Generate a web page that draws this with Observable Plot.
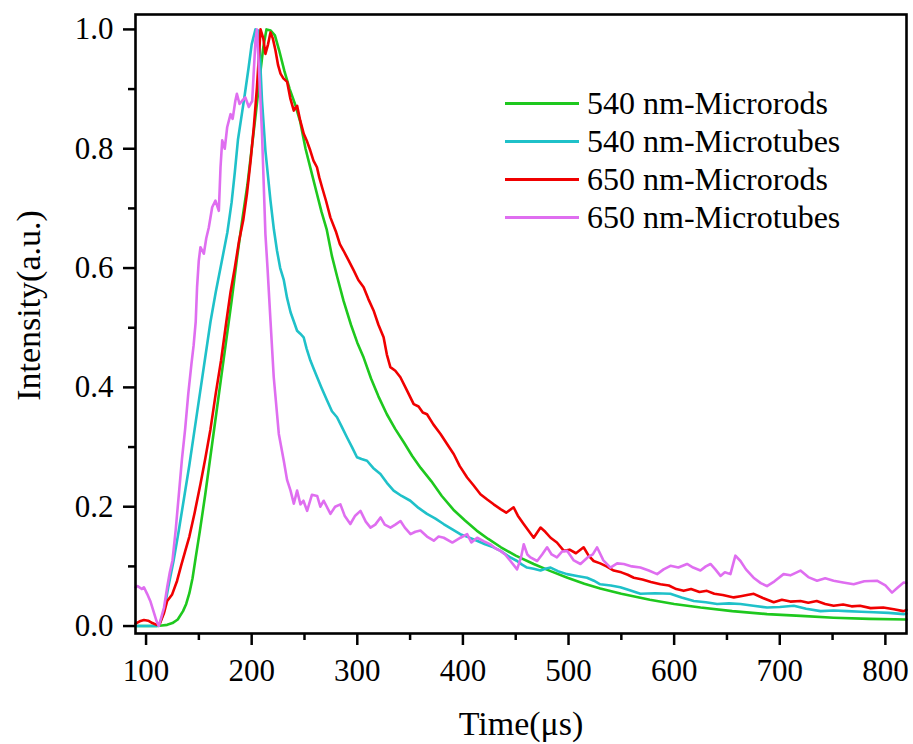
<!DOCTYPE html>
<html><head><meta charset="utf-8">
<script src="https://cdn.jsdelivr.net/npm/d3@7"></script>
<script src="https://cdn.jsdelivr.net/npm/@observablehq/plot@0.6"></script>
<style>
html,body{margin:0;padding:0;background:#fff;}
#wrap{position:relative;width:913px;height:744px;font-family:"Liberation Serif","Times New Roman",serif;}
#legend{position:absolute;left:505px;top:84px;}
.row{height:38px;display:flex;align-items:center;font-size:32px;color:#000;white-space:nowrap;}
.sw{width:74px;height:3px;margin-right:8px;}
</style></head><body><div id="wrap"><div id="legend"></div></div>
<script>
const seriesNames = ["540 nm-Microrods", "540 nm-Microtubes", "650 nm-Microrods", "650 nm-Microtubes"];
const seriesColors = ["#1ec81e", "#1fc1c9", "#f00000", "#df6ef0"];
const xTicks = [100, 200, 300, 400, 500, 600, 700, 800];
const xMinor = [150, 250, 350, 450, 550, 650, 750];
const yTicks = [0, 0.2, 0.4, 0.6, 0.8, 1.0];
const yMinor = [0.1, 0.3, 0.5, 0.7, 0.9];

// [time (µs), intensity]
const rods540 = [[90,0],[100,0],[110,0],[115,0.001],[120,0.002],[125,0.005],[130,0.011],[135,0.025],[138,0.037],[141,0.055],[144,0.08],[147,0.115],[151,0.16],[156,0.22],[161,0.285],[166,0.35],[171,0.415],[176,0.48],[181,0.545],[186,0.615],[191,0.68],[196,0.74],[200,0.80],[204,0.86],[208,0.925],[211,0.97],[214,1.0],[218,0.998],[222,0.99],[226,0.965],[231,0.93],[236,0.90],[241,0.875],[246,0.845],[251,0.80],[256,0.765],[261,0.73],[266,0.695],[271,0.665],[276,0.62],[281,0.585],[287,0.545],[294,0.505],[300,0.475],[306,0.45],[313,0.415],[320,0.385],[328,0.355],[336,0.33],[344,0.308],[352,0.285],[360,0.265],[370,0.243],[380,0.218],[391,0.195],[402,0.177],[413,0.160],[424,0.146],[436,0.132],[450,0.118],[467,0.104],[483,0.092],[499,0.081],[515,0.071],[530,0.063],[550,0.054],[577,0.044],[600,0.037],[625,0.031],[655,0.025],[688,0.020],[720,0.017],[751,0.014],[785,0.012],[820,0.011]];

const tubes540 = [[90,0],[100,0],[110,0],[113,0.004],[117,0.025],[121,0.065],[126,0.109],[131,0.16],[136,0.215],[141,0.27],[146,0.33],[151,0.39],[156,0.45],[161,0.51],[166,0.56],[171,0.605],[177,0.66],[181,0.71],[184,0.76],[187,0.815],[190,0.85],[193,0.885],[197,0.935],[200,0.975],[203.6,1.0],[206.7,0.998],[209.8,0.88],[213,0.797],[217.8,0.713],[221,0.665],[224,0.629],[227,0.60],[230.4,0.58],[233.5,0.55],[236.8,0.526],[240,0.51],[243,0.495],[246,0.49],[249.2,0.484],[252,0.465],[255.6,0.445],[259,0.43],[262,0.417],[266,0.40],[271.4,0.378],[276,0.36],[280.8,0.35],[285,0.335],[290.3,0.316],[295,0.30],[299.7,0.283],[304,0.28],[309.2,0.277],[315,0.265],[321.9,0.255],[328,0.24],[334.4,0.227],[342,0.218],[350.2,0.21],[358,0.198],[366,0.188],[374,0.18],[381.7,0.171],[390,0.162],[397.5,0.154],[405,0.149],[413.3,0.143],[421,0.137],[429,0.132],[435.6,0.126],[444,0.116],[451.3,0.109],[456,0.103],[460.7,0.098],[467,0.096],[473.5,0.093],[478,0.096],[483,0.098],[490,0.092],[498.6,0.087],[508,0.084],[517.5,0.081],[524,0.076],[530,0.070],[540,0.068],[549,0.065],[558,0.06],[568,0.054],[582,0.055],[596.4,0.054],[607,0.048],[618.6,0.042],[630,0.040],[640.7,0.037],[652,0.038],[662.8,0.037],[675,0.034],[688,0.031],[700,0.032],[713.3,0.034],[725,0.029],[738.6,0.025],[751,0.026],[763.8,0.025],[777,0.024],[789,0.023],[803,0.022],[817.4,0.020],[820,0.021]];

const rods650 = [[90,0.004],[94,0.008],[98,0.010],[102,0.009],[106,0.005],[110,0.002],[113,0.004],[117,0.022],[120,0.042],[124.7,0.053],[129.4,0.076],[133,0.100],[137,0.125],[141,0.150],[146,0.190],[151.5,0.238],[156,0.280],[161,0.330],[166,0.390],[171,0.445],[176,0.510],[180,0.560],[184,0.600],[188,0.645],[192,0.680],[195.5,0.724],[199,0.780],[202,0.836],[205,0.903],[208.4,1.000],[211,0.985],[213,0.959],[215.5,0.975],[217.8,0.995],[220,0.985],[222.5,0.965],[225,0.940],[227.3,0.926],[230,0.918],[233.6,0.912],[236.5,0.885],[239.9,0.864],[243,0.872],[246,0.847],[249.3,0.825],[252.5,0.812],[255.5,0.797],[258.5,0.780],[261.8,0.769],[264,0.752],[266.7,0.735],[270.5,0.712],[274.5,0.685],[280,0.660],[283.5,0.640],[287,0.629],[292,0.612],[296.6,0.596],[301,0.580],[306,0.568],[310.5,0.548],[315.4,0.529],[320,0.505],[324.9,0.484],[328,0.455],[331.3,0.434],[336,0.428],[340.8,0.417],[347,0.395],[353.4,0.372],[358,0.368],[362,0.358],[366,0.355],[372,0.338],[378.8,0.322],[385,0.305],[391.4,0.288],[397,0.268],[404,0.249],[410,0.236],[416.6,0.221],[423,0.212],[429.1,0.204],[435.6,0.196],[441,0.190],[448,0.199],[452,0.185],[457.5,0.171],[462,0.160],[467,0.148],[473.5,0.165],[478,0.158],[483,0.148],[489,0.140],[495.6,0.126],[501,0.128],[507,0.122],[514.3,0.132],[519,0.118],[523.8,0.109],[530,0.105],[536,0.100],[542.8,0.093],[550,0.090],[556,0.086],[561.8,0.081],[570,0.078],[578,0.074],[587,0.070],[595,0.068],[602,0.062],[609,0.059],[616,0.062],[624,0.057],[631,0.059],[638,0.054],[646,0.052],[656.5,0.048],[663,0.050],[669,0.052],[675.4,0.054],[684,0.047],[694.3,0.040],[702,0.044],[710,0.041],[719.6,0.042],[727,0.039],[735,0.042],[743,0.037],[751,0.034],[760,0.036],[768,0.033],[776,0.034],[786,0.030],[798,0.031],[808,0.028],[817,0.025],[820,0.027]];

const tubes650 = [[90,0.065],[92,0.067],[96,0.062],[98,0.065],[101,0.054],[104,0.042],[107,0.025],[110,0.008],[112,0.0],[114.5,0.015],[117,0.031],[120,0.065],[122.5,0.09],[125,0.11],[128,0.16],[131,0.22],[134,0.28],[137,0.33],[140,0.39],[143,0.44],[145,0.47],[147,0.51],[148.3,0.568],[149.9,0.612],[151.5,0.635],[154.7,0.624],[157,0.65],[159.4,0.668],[162.6,0.702],[165.7,0.713],[168.9,0.696],[170.5,0.769],[172.1,0.814],[174.5,0.80],[176.8,0.836],[180,0.858],[182,0.85],[184.5,0.88],[186,0.892],[188.5,0.875],[190.8,0.88],[194,0.886],[197.3,0.87],[200.5,0.88],[202,0.93],[203.6,0.981],[205,1.0],[207,0.93],[209.8,0.825],[213,0.657],[215,0.60],[217.8,0.512],[220.9,0.417],[225.7,0.322],[230.4,0.277],[233.5,0.245],[236.8,0.227],[239.9,0.205],[243,0.227],[246.2,0.204],[249,0.21],[252.5,0.193],[257,0.22],[262,0.218],[265,0.2],[268.2,0.21],[274.6,0.188],[279,0.2],[284,0.204],[288,0.185],[293.4,0.171],[298,0.185],[303,0.193],[308,0.175],[312.5,0.165],[317,0.17],[322,0.182],[326,0.17],[331.4,0.165],[336,0.17],[340.9,0.176],[345,0.165],[350.4,0.154],[355,0.158],[359.8,0.16],[366,0.15],[372.4,0.143],[377,0.15],[381.9,0.148],[390,0.14],[397.7,0.148],[404,0.154],[408,0.14],[413.5,0.148],[420,0.142],[426,0.137],[431,0.13],[435.6,0.126],[440,0.12],[445,0.109],[451.3,0.095],[455,0.115],[457.6,0.137],[461,0.12],[464,0.115],[470.3,0.109],[475,0.12],[479.7,0.132],[484,0.12],[489,0.115],[494,0.125],[498.6,0.126],[505,0.11],[511.3,0.104],[518,0.115],[523,0.12],[527,0.132],[533,0.11],[539.7,0.098],[546,0.105],[552.3,0.104],[560,0.1],[568,0.098],[576,0.093],[583.9,0.087],[590,0.095],[596.5,0.101],[604,0.098],[612.2,0.104],[618,0.098],[624.9,0.093],[630,0.1],[634.4,0.104],[639,0.095],[643.9,0.084],[648,0.09],[653.3,0.087],[656,0.105],[658,0.118],[662.8,0.109],[668,0.095],[675.2,0.081],[682,0.072],[687.9,0.067],[695,0.075],[703.6,0.087],[710,0.085],[719.6,0.093],[727,0.082],[735.3,0.076],[743,0.08],[751,0.076],[760,0.073],[770,0.070],[780,0.075],[792,0.076],[800,0.068],[806.3,0.056],[812,0.065],[817.3,0.073],[820,0.072]];

const seriesData = [rods540, tubes540, rods650, tubes650];
const rows = seriesData.flatMap((arr, i) => arr.map(([t, v]) => ({series: seriesNames[i], t, v})));

const chart = Plot.plot({
  width: 913, height: 744,
  marginLeft: 135, marginRight: 7, marginTop: 14, marginBottom: 111,
  x: {domain: [90, 820]},
  y: {domain: [-0.0125, 1.025]},
  color: {domain: seriesNames, range: seriesColors},
  style: {fontFamily: '"Liberation Serif", "Times New Roman", serif', background: "white", color: "black"},
  marks: [
    Plot.line(rows, {x: "t", y: "v", z: "series", stroke: "series", strokeWidth: 2.6}),
    Plot.frame({stroke: "black", strokeWidth: 2.6}),
    Plot.axisX({ticks: xTicks, tickSize: 12, tickPadding: 13, fontSize: 31, strokeWidth: 2.5, label: null, tickFormat: d => String(d)}),
    Plot.axisX({ticks: xMinor, tickSize: 7, tickFormat: () => "", label: null, strokeWidth: 2.5}),
    Plot.axisY({ticks: yTicks, tickSize: 12, tickPadding: 10, fontSize: 31, strokeWidth: 2.5, label: null, tickFormat: d3.format(".1f")}),
    Plot.axisY({ticks: yMinor, tickSize: 7, tickFormat: () => "", label: null, strokeWidth: 2.5}),
    Plot.text(["Time(μs)"], {frameAnchor: "bottom", dy: 91, fontSize: 34, lineAnchor: "middle", textAnchor: "middle", fill: "black"}),
    Plot.text(["Intensity(a.u.)"], {frameAnchor: "left", dx: -106, dy: -18.5, rotate: -90, fontSize: 34, lineAnchor: "middle", textAnchor: "middle", fill: "black"})
  ]
});
const wrap = document.getElementById("wrap");
wrap.insertBefore(chart, wrap.firstChild);

const legend = document.getElementById("legend");
seriesNames.forEach((name, i) => {
  const row = document.createElement("div");
  row.className = "row";
  const sw = document.createElement("div");
  sw.className = "sw";
  sw.style.background = seriesColors[i];
  const label = document.createElement("span");
  label.textContent = name;
  row.appendChild(sw);
  row.appendChild(label);
  legend.appendChild(row);
});
</script></body></html>
